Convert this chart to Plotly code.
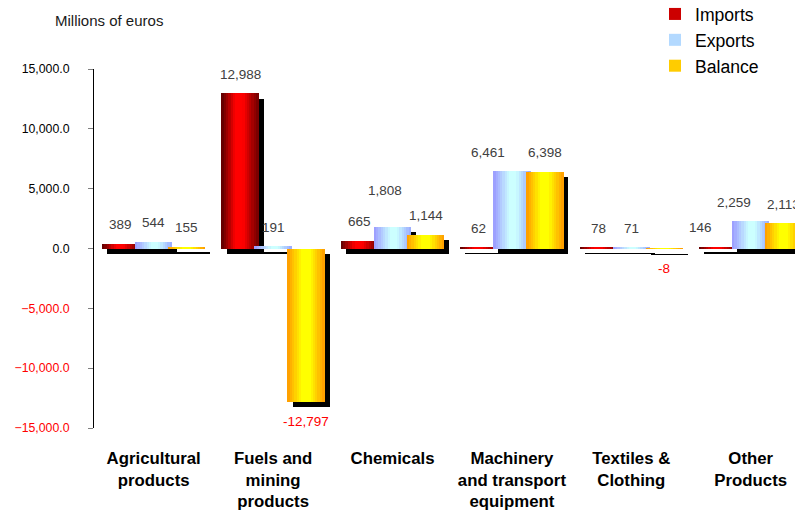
import numpy as np
import plotly.graph_objects as go

# ---------------- data ----------------
categories = ["Agricultural<br>products", "Fuels and<br>mining<br>products", "Chemicals",
              "Machinery<br>and transport<br>equipment", "Textiles &<br>Clothing", "Other<br>Products"]
imports = [389, 12988, 665, 62, 78, 146]
exports = [544, 191, 1808, 6461, 71, 2259]
balance = [155, -12797, 1144, 6398, -8, 2113]
series_names = ["Imports", "Exports", "Balance"]
pos_ticks = [0, 5000, 10000, 15000]
neg_ticks = [-5000, -10000, -15000]

# ---------------- style ----------------
FONT = "Liberation Sans, Arial, sans-serif"
W, H = 795, 510
ML, MR, MT, MB = 94, 0, 69, 82
PLOT_W = W - ML - MR
PLOT_H = H - MT - MB
YMIN, YMAX = -15000, 15000
CAT_PX = 119.4
XMIN = -0.5
XMAX = XMIN + PLOT_W / CAT_PX
UNITS_PER_PX_Y = (YMAX - YMIN) / PLOT_H

BAR_W = 37 / CAT_PX
STEP = 33 / CAT_PX
OFFSETS = [-STEP, 0.0, STEP]
SHADOW_DX = 5 / CAT_PX
SHADOW_DY = 5.5 * UNITS_PER_PX_Y
N_STRIPES = 16

gradients = {
    "Imports": [(0.0, "#5a0000"), (0.38, "#ff0000"), (0.58, "#ff0000"), (1.0, "#700000")],
    "Exports": [(0.0, "#9999ff"), (0.45, "#ccffff"), (0.62, "#ccffff"), (1.0, "#99a8ff")],
    "Balance": [(0.0, "#ff9900"), (0.4, "#ffff00"), (0.6, "#ffff00"), (1.0, "#ff9900")],
}
legend_color = {"Imports": "#cc0000", "Exports": "#b3d9ff", "Balance": "#ffcc00"}
# manual label nudges (dx, dy in pixels) seen in the original chart
label_nudge = {("Exports", 2): (-8, 17), ("Exports", 3): (-24, 0),
               ("Exports", 5): (-17, 0), ("Imports", 5): (-17, 0)}


def hex2rgb(h):
    h = h.lstrip("#")
    return np.array([int(h[i:i + 2], 16) for i in (0, 2, 4)], dtype=float)


def grad_color(stops, t):
    for (t0, c0), (t1, c1) in zip(stops[:-1], stops[1:]):
        if t0 <= t <= t1:
            f = 0 if t1 == t0 else (t - t0) / (t1 - t0)
            c = hex2rgb(c0) * (1 - f) + hex2rgb(c1) * f
            return "rgb(%d,%d,%d)" % tuple(np.round(c))
    return stops[-1][1]


fig = go.Figure()
xpos = np.arange(len(categories), dtype=float)
all_values = [imports, exports, balance]

for si, (name, vals) in enumerate(zip(series_names, all_values)):
    centers = xpos + OFFSETS[si]
    # drop shadow
    fig.add_trace(go.Bar(
        x=centers + SHADOW_DX, y=vals, base=[-SHADOW_DY] * len(vals), width=BAR_W,
        marker=dict(color="#000000", line=dict(width=0)),
        showlegend=False, hoverinfo="skip"))
    # gradient stripes
    sw = BAR_W / N_STRIPES
    for k in range(N_STRIPES):
        t = (k + 0.5) / N_STRIPES
        fig.add_trace(go.Bar(
            x=centers - BAR_W / 2 + (k + 0.5) * sw, y=vals, width=sw * 1.15,
            marker=dict(color=grad_color(gradients[name], t), line=dict(width=0)),
            showlegend=False, hoverinfo="skip"))
    # legend entry
    fig.add_trace(go.Bar(x=[None], y=[None], name=name,
                         marker=dict(color=legend_color[name], line=dict(width=0)),
                         showlegend=True, hoverinfo="skip"))
    # data labels
    for ci, v in enumerate(vals):
        dx, dy = label_nudge.get((name, ci), (0, 0))
        fig.add_annotation(
            x=centers[ci], y=v, xref="x", yref="y",
            text=f"{v:,}", showarrow=False,
            xshift=dx,
            yshift=(19 + dy) if v >= 0 else -20,
            xanchor="center", yanchor="middle",
            font=dict(family=FONT, size=13.5, color="#404040" if v >= 0 else "#ff0000"))

# dummy trace for the red negative-tick axis
fig.add_trace(go.Scatter(x=[None], y=[None], yaxis="y2", showlegend=False, hoverinfo="skip"))

fig.add_annotation(
    text="Millions of euros", xref="paper", yref="paper",
    x=(53 - ML) / PLOT_W, y=(H - MB - 20) / PLOT_H,
    xanchor="left", yanchor="middle", showarrow=False,
    font=dict(family=FONT, size=15, color="#1a1a1a"))

axis_common = dict(range=[YMIN, YMAX], showgrid=False, zeroline=False,
                   ticks="outside", ticklen=5, tickcolor="#808080", tickwidth=1,
                   tickformat=",.1f", ticklabelstandoff=16)

fig.update_layout(
    width=W, height=H,
    margin=dict(l=ML, r=MR, t=MT, b=MB, pad=0, autoexpand=False),
    barmode="overlay",
    bargap=0,
    paper_bgcolor="white", plot_bgcolor="white",
    font=dict(family=FONT, color="#000000"),
    xaxis=dict(range=[XMIN, XMAX], showgrid=False, zeroline=False, showline=False,
               tickvals=list(xpos), ticktext=categories, ticks="",
               tickfont=dict(family=FONT, size=16.8, color="#000000", weight="bold"),
               ticklabelstandoff=18),
    yaxis=dict(**axis_common, tickvals=pos_ticks, showline=True, linecolor="#000000", linewidth=1,
               tickfont=dict(family=FONT, size=12.3, color="#000000")),
    yaxis2=dict(**axis_common, tickvals=neg_ticks, overlaying="y", side="left", showline=False,
                tickfont=dict(family=FONT, size=12.3, color="#ff0000")),
    legend=dict(x=(655 - ML) / PLOT_W, y=(H - MB + 4) / PLOT_H, xanchor="left", yanchor="top",
                font=dict(family=FONT, size=17.6, color="#000000"),
                bgcolor="rgba(0,0,0,0)", tracegroupgap=0, itemwidth=30),
    hovermode=False,
)

fig.write_html("out.html")
